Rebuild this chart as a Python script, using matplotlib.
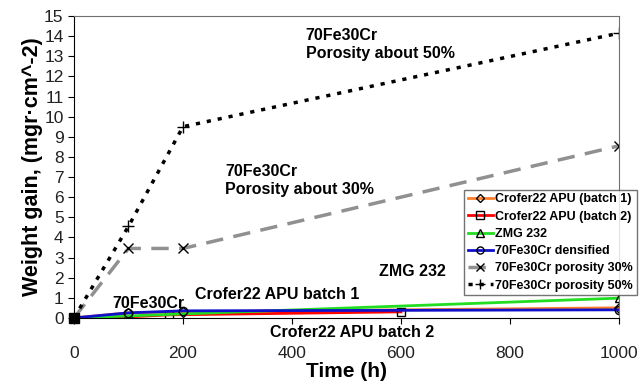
import matplotlib
matplotlib.use("Agg")
import matplotlib.pyplot as plt

plt.rcParams['font.family'] = ['Liberation Sans', 'DejaVu Sans']

# weight gain data (mg/cm^2) vs time (h)
t_batch1 = [0, 100, 200, 1000]
w_batch1 = [0, 0.25, 0.3, 0.5]

t_batch2 = [0, 100, 175, 600]
w_batch2 = [0, 0.05, 0.15, 0.3]

t_zmg = [0, 1000]
w_zmg = [0, 0.98]

t_dens = [0, 100, 200, 1000]
w_dens = [0, 0.25, 0.35, 0.4]

t_por30 = [0, 100, 200, 1000]
w_por30 = [0, 3.45, 3.45, 8.55]

t_por50 = [0, 100, 200, 1000]
w_por50 = [0, 4.55, 9.5, 14.15]

fig = plt.figure(figsize=(6.4, 3.91), dpi=100)
ax = fig.add_axes([0.1156, 0.187, 0.8515, 0.772])

ax.plot(t_batch1, w_batch1, color='#ff7f27', lw=2, marker='D', ms=5, mfc='none',
        mec='black', markevery=[1, 2, 3], label='Crofer22 APU (batch 1)')
ax.plot(t_batch2, w_batch2, color='red', lw=2, marker='s', ms=6, mfc='none',
        mec='black', markevery=[1, 2, 3], label='Crofer22 APU (batch 2)')
ax.plot(t_zmg, w_zmg, color='#22dd22', lw=2, marker='^', ms=6, mfc='none',
        mec='black', markevery=[1], label='ZMG 232')
ax.plot(t_dens, w_dens, color='#1010cc', lw=2, marker='o', ms=6, mfc='none',
        mec='black', markevery=[1, 2, 3], label='70Fe30Cr densified')
ax.plot(t_por30, w_por30, color='#909090', lw=2.5, ls=(0, (5, 3)), marker='x', ms=7,
        mec='black', mew=1, markevery=[1, 2, 3], label='70Fe30Cr porosity 30%')
ax.plot(t_por50, w_por50, color='black', lw=2.5, ls=(0, (1.2, 2)), marker='+', ms=8,
        mec='black', mew=1, markevery=[1, 2, 3], label='70Fe30Cr porosity 50%')
ax.plot(t_por50[0], w_por50[0], marker='s', color='black', ms=7, clip_on=False)

ax.set_xlim(0, 1000)
ax.set_ylim(0, 15)
ax.set_xticks(range(0, 1001, 200))
ax.set_yticks(range(0, 16))
ax.tick_params(labelsize=12.5, direction='out', length=4, labelcolor='#222222')
ax.tick_params(axis='x', pad=16)
for s in ['top', 'right']:
    ax.spines[s].set_color('#707070')

ax.set_xlabel('Time (h)', fontsize=15, fontweight='bold', labelpad=1)
ax.set_ylabel('Weight gain, (mgr·cm^-2)', fontsize=15.5, fontweight='bold', labelpad=1)

tk = dict(fontsize=11.5, fontweight='bold', clip_on=False)
ax.text(425, 13.6, '70Fe30Cr\nPorosity about 50%', ha='left', va='center', linespacing=1.25, **tk)
ax.text(278, 6.85, '70Fe30Cr\nPorosity about 30%', ha='left', va='center', linespacing=1.25, **tk)
ax.text(560, 2.3, 'ZMG 232', ha='left', va='center', **tk)
ax.text(222, 1.15, 'Crofer22 APU batch 1', ha='left', va='center', **tk)
ax.text(70, 0.7, '70Fe30Cr', ha='left', va='center', **tk)
ax.text(360, -0.75, 'Crofer22 APU batch 2', ha='left', va='center', **tk)

leg = ax.legend(loc='upper right', bbox_to_anchor=(0.995, 0.515), bbox_transform=fig.transFigure,
                prop={'weight': 'bold', 'size': 9}, frameon=True, fancybox=False,
                borderpad=0.3, labelspacing=0.42, handlelength=2.0, handletextpad=0.2,
                borderaxespad=0, markerscale=0.85)
leg.get_frame().set_edgecolor('#505050')
leg.get_frame().set_linewidth(1)

fig.savefig('out.png', dpi=100)
